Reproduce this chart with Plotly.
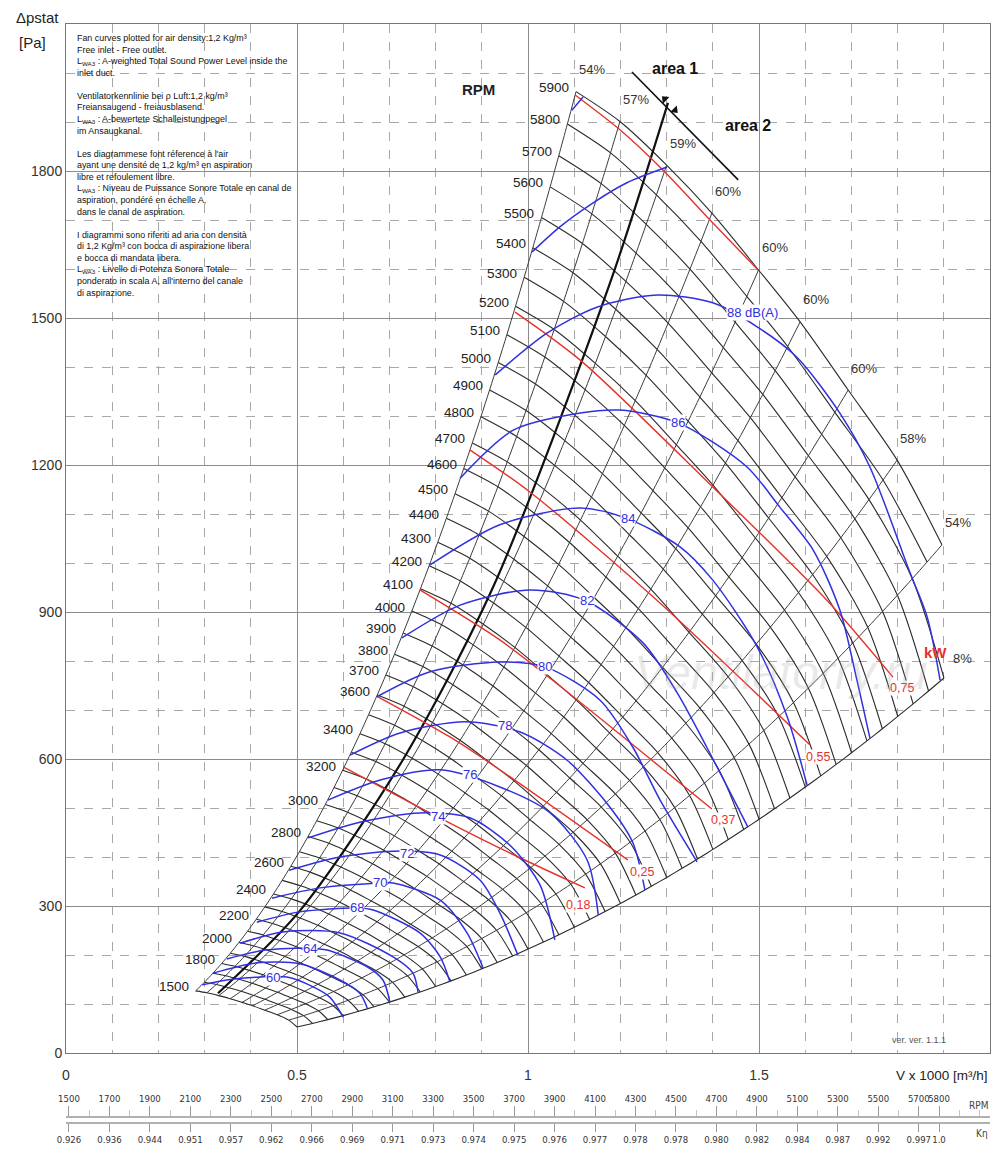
import plotly.graph_objects as go

# ------------------------------------------------------------------ data
# speed curves (every 100 rpm) and the ones carrying a label
RPM = [1500, 1600, 1700, 1800, 1900, 2000, 2100, 2200, 2300, 2400, 2500, 2600, 2700,
       2800, 2900, 3000, 3100, 3200, 3300, 3400, 3500, 3600, 3700, 3800, 3900, 4000,
       4100, 4200, 4300, 4400, 4500, 4600, 4700, 4800, 4900, 5000, 5100, 5200, 5300,
       5400, 5500, 5600, 5700, 5800, 5900]
RPM_LABELLED = [1500, 1800, 2000, 2200, 2400, 2600, 2800, 3000, 3200, 3400, 3600, 3700,
                3800, 3900, 4000, 4100, 4200, 4300, 4400, 4500, 4600, 4700, 4800, 4900,
                5000, 5100, 5200, 5300, 5400, 5500, 5600, 5700, 5800, 5900]

# reference curve at 5900 rpm (V x1000 m3/h, Pa)
BASE_RPM = 5900
BASE_V = [1.104, 1.199, 1.300, 1.398, 1.499, 1.589, 1.693, 1.799, 1.896, 1.967]
BASE_P = [1962, 1901, 1812, 1714, 1598, 1492, 1353, 1210, 1037, 820]
V_LIMIT = 1.92
# efficiency lines end on the first nine points of the reference curve
EFF_LABELS = ["54%", "57%", "59%", "60%", "60%", "60%", "60%", "58%", "54%"]

# sound power lines dB(A)
SOUND_LEVELS = [60, 62, 64, 66, 68, 70, 72, 74, 76, 78, 80, 82, 84, 86, 88, 90, 92]
SOUND_V = [
    [0.294, 0.348, 0.420, 0.478, 0.535, 0.571, 0.600],
    [0.318, 0.413, 0.506, 0.593, 0.636, 0.652],
    [0.348, 0.431, 0.528, 0.565, 0.652, 0.686, 0.701],
    [0.377, 0.470, 0.593, 0.708, 0.751, 0.762],
    [0.413, 0.506, 0.630, 0.665, 0.766, 0.810, 0.831],
    [0.446, 0.550, 0.680, 0.708, 0.810, 0.868, 0.903],
    [0.483, 0.593, 0.723, 0.810, 0.896, 0.939, 0.978],
    [0.524, 0.636, 0.766, 0.874, 0.961, 1.026, 1.058],
    [0.567, 0.680, 0.810, 0.939, 1.048, 1.128, 1.152],
    [0.615, 0.723, 0.864, 0.983, 1.084, 1.177, 1.227, 1.253],
    [0.673, 0.788, 0.939, 1.037, 1.156, 1.227, 1.286, 1.366],
    [0.727, 0.853, 1.004, 1.123, 1.249, 1.323, 1.387, 1.476],
    [0.788, 0.939, 1.113, 1.216, 1.329, 1.400, 1.496, 1.561, 1.604],
    [0.853, 0.968, 1.113, 1.199, 1.325, 1.474, 1.545, 1.617, 1.675, 1.712, 1.740],
    [0.929, 1.041, 1.149, 1.279, 1.400, 1.496, 1.582, 1.675, 1.740, 1.827, 1.864, 1.892],
    [1.009, 1.069, 1.141, 1.214, 1.301],
    [1.095, 1.119],
]
SOUND_P = [
    [139, 149, 155, 155, 135, 114, 73],
    [163, 184, 182, 149, 122, 92],
    [192, 210, 214, 210, 176, 149, 104],
    [224, 247, 245, 196, 163, 124],
    [267, 288, 296, 292, 245, 196, 145],
    [316, 337, 347, 347, 312, 245, 173],
    [373, 400, 412, 404, 353, 286, 200],
    [439, 471, 490, 480, 424, 343, 231],
    [516, 557, 578, 543, 490, 394, 282],
    [608, 653, 676, 655, 598, 502, 429, 333],
    [727, 778, 798, 788, 720, 624, 516, 390],
    [847, 914, 945, 924, 837, 735, 624, 461],
    [996, 1078, 1112, 1090, 1033, 965, 829, 686, 547],
    [1173, 1271, 1306, 1312, 1286, 1196, 1114, 1027, 904, 761, 643],
    [1384, 1469, 1522, 1547, 1531, 1482, 1420, 1306, 1196, 980, 890, 761],
    [1635, 1686, 1735, 1776, 1808],
    [1924, 1951],
]
SOUND_LABEL_TEXT = ["60", "64", "68", "70", "72", "74", "76", "78", "80", "82", "84", "86", "88 dB(A)"]
SOUND_LABEL_V = [0.448, 0.528, 0.630, 0.680, 0.738, 0.805, 0.874, 0.950, 1.037, 1.128, 1.216, 1.325, 1.487]
SOUND_LABEL_P = [155, 214, 296, 347, 408, 482, 569, 669, 788, 924, 1090, 1286, 1512]

# shaft power lines kW
KW_V = [[0.600, 0.788, 0.939, 1.123],
        [0.675, 0.831, 0.939, 1.216],
        [0.766, 0.939, 1.058, 1.398],
        [0.874, 1.004, 1.279, 1.610],
        [0.972, 1.113, 1.400, 1.647, 1.790],
        [1.102, 1.199, 1.292, 1.394, 1.498]]
KW_P = [[584, 490, 418, 337],
        [727, 645, 578, 394],
        [945, 843, 757, 498],
        [1231, 1145, 924, 629],
        [1512, 1414, 1155, 924, 767],
        [1955, 1884, 1802, 1700, 1598]]
KW_LABEL_TEXT = ["0,18", "0,25", "0,37", "0,55", "0,75"]
KW_LABEL_V = [1.108, 1.247, 1.422, 1.628, 1.810]
KW_LABEL_P = [302, 369, 476, 604, 745]

# area 1 / area 2 separation
THICK_V = [0.329, 0.506, 0.729, 0.924, 1.177, 1.303]
THICK_P = [122, 290, 598, 950, 1570, 1939]
DIV_V = [1.225, 1.455]
DIV_P = [2002, 1782]
ARROW_V = [1.296, 1.318]
ARROW_P = [1947, 1924]

# bottom scales
RPM_TICKS = [1500, 1700, 1900, 2100, 2300, 2500, 2700, 2900, 3100, 3300, 3500, 3700,
             3900, 4100, 4300, 4500, 4700, 4900, 5100, 5300, 5500, 5700, 5800]
K_ETA = ["0.926", "0.936", "0.944", "0.951", "0.957", "0.962", "0.966", "0.969", "0.971",
         "0.973", "0.974", "0.975", "0.976", "0.977", "0.978", "0.978", "0.980", "0.982",
         "0.984", "0.987", "0.992", "0.997", "1.0"]

NOTE = ("Fan curves plotted for air density:1,2 Kg/m³<br>Free inlet - Free outlet.<br>"
        "L<sub>WA3</sub> : A-weighted Total Sound Power Level inside the<br>inlet duct.<br><br>"
        "Ventilatorkennlinie bei ρ Luft:1,2 kg/m³<br>Freiansaugend - freiausblasend.<br>"
        "L<sub>WA3</sub> : A-bewertete Schalleistungpegel<br>im Ansaugkanal.<br><br>"
        "Les diagrammese font réference à l'air<br>ayant une densité de 1,2 kg/m³ en aspiration<br>"
        "libre et refoulement libre.<br>"
        "L<sub>WA3</sub> : Niveau de Puissance Sonore Totale en canal de<br>"
        "aspiration, pondéré en échelle A,<br>dans le canal de aspiration.<br><br>"
        "I diagrammi sono riferiti ad aria con densità<br>"
        "di 1,2 Kg/m³ con bocca di aspirazione libera<br>e bocca di mandata libera.<br>"
        "L<sub>WA3</sub> : Livello di Potenza Sonora Totale<br>"
        "ponderato in scala A, all'interno del canale<br>di aspirazione.")

# ------------------------------------------------------------------ figure
FONT = "Liberation Sans, Arial, sans-serif"
NARROW = "Liberation Sans Narrow, DejaVu Sans Condensed, Roboto Condensed, Liberation Sans, sans-serif"
BLACK = "#2a2a2a"
RED = "#e6322b"
BLUE = "#3030e0"

fig = go.Figure()

def line(x, y, color, width, spline=True, xaxis="x"):
    fig.add_trace(go.Scatter(x=x, y=y, mode="lines", xaxis=xaxis,
                             line=dict(color=color, width=width,
                                       shape="spline" if spline else "linear", smoothing=0.8),
                             hoverinfo="skip", showlegend=False))

# speed curves
ends_v, ends_p = [], []
for n in RPM:
    r = n / BASE_RPM
    xs = [v * r for v in BASE_V if v * r <= V_LIMIT]
    ys = [p * r * r for v, p in zip(BASE_V, BASE_P) if v * r <= V_LIMIT]
    line(xs, ys, BLACK, 1.1)
    if len(xs) == len(BASE_V):
        ends_v.append(xs[-1])
        ends_p.append(ys[-1])
line(ends_v, ends_p, BLACK, 1.1)

# efficiency lines (through the points of equal position on every speed curve)
for i in range(len(EFF_LABELS)):
    xs = [BASE_V[i] * n / BASE_RPM for n in RPM]
    ys = [BASE_P[i] * (n / BASE_RPM) ** 2 for n in RPM]
    line(xs, ys, "#3c3c3c", 1.0)

# thick separation line and divider
line(THICK_V, THICK_P, "#111111", 2.2)
line(DIV_V, DIV_P, "#111111", 1.6, spline=False)
fig.add_trace(go.Scatter(x=ARROW_V, y=ARROW_P, mode="markers",
                         marker=dict(symbol="triangle-up", size=8, color="#111111", angle=[-45, 135]),
                         hoverinfo="skip", showlegend=False))

# power lines
for xs, ys in zip(KW_V, KW_P):
    line(xs, ys, RED, 1.4)

# sound lines
for xs, ys in zip(SOUND_V, SOUND_P):
    line(xs, ys, BLUE, 1.5)

# dummy traces carrying the bottom scales
fig.add_trace(go.Scatter(x=RPM_TICKS, y=[0] * len(RPM_TICKS), xaxis="x2", mode="markers",
                         marker=dict(opacity=0), hoverinfo="skip", showlegend=False))
fig.add_trace(go.Scatter(x=RPM_TICKS, y=[0] * len(RPM_TICKS), xaxis="x3", mode="markers",
                         marker=dict(opacity=0), hoverinfo="skip", showlegend=False))

ann = []
# rpm labels
for n in RPM_LABELLED:
    r = n / BASE_RPM
    ann.append(dict(x=BASE_V[0] * r, y=BASE_P[0] * r * r, text=str(n), showarrow=False,
                    xanchor="right", yanchor="middle", xshift=-5, yshift=4,
                    font=dict(family=FONT, size=13.5, color="#222")))
# efficiency labels
for i, t in enumerate(EFF_LABELS):
    ann.append(dict(x=BASE_V[i], y=BASE_P[i], text=t, showarrow=False, xshift=16, yshift=22,
                    font=dict(family=FONT, size=13, color="#333")))
# sound labels
for t, x, y in zip(SOUND_LABEL_TEXT, SOUND_LABEL_V, SOUND_LABEL_P):
    ann.append(dict(x=x, y=y, text=t, showarrow=False, bgcolor="white", borderpad=0,
                    font=dict(family=FONT, size=13, color=BLUE)))
# kW labels
for t, x, y in zip(KW_LABEL_TEXT, KW_LABEL_V, KW_LABEL_P):
    ann.append(dict(x=x, y=y, text=t, showarrow=False, bgcolor="white", borderpad=0,
                    font=dict(family=FONT, size=12.5, color=RED)))

def paper(px, py):
    return (px - 66) / 924.0, (1145 - py) / 1121.0

def ptext(px, py, text, size, color="#222", xanchor="center", bold=False, family=FONT, **kw):
    x, y = paper(px, py)
    if bold:
        text = "<b>" + text + "</b>"
    ann.append(dict(xref="paper", yref="paper", x=x, y=y, text=text, showarrow=False,
                    xanchor=xanchor, yanchor="middle",
                    font=dict(family=family, size=size, color=color), **kw))

ptext(780, 672, "<i>Ventilatorry.ru</i>", 48, "rgba(170,170,170,0.25)")
ptext(951, 659, "8%", 13, "#333", xanchor="left")
ptext(949, 652, "kW", 15, RED, xanchor="right", bold=True)
ptext(478, 90, "RPM", 15, "#222", bold=True)
ptext(675, 68, "area 1", 16, "#111", bold=True)
ptext(748, 125, "area 2", 16, "#111", bold=True)
ptext(14, 17, "Δpstat", 15, "#222", xanchor="left")
ptext(17, 42, "[Pa]", 15, "#222", xanchor="left")
ptext(990, 1075, "V x 1000 [m³/h]", 13.5, "#222", xanchor="right")
ptext(990, 1105, "RPM", 10, "#444", xanchor="right", family=NARROW)
ptext(990, 1133, "Kη", 10, "#444", xanchor="right", family=NARROW)
ptext(948, 1040, "ver. ver. 1.1.1", 9, "#555", xanchor="right")
x0, y0 = paper(75, 31)
ann.append(dict(xref="paper", yref="paper", x=x0, y=y0, text=NOTE, showarrow=False,
                xanchor="left", yanchor="top", align="left",
                font=dict(family=FONT, size=8.9, color="#111")))

GRID = "#8c8c8c"
MINOR = "#a8a8a8"
fig.update_layout(
    width=1000, height=1160,
    # the page body adds 8 px, so the margins are offset to put the frame where the reference has it
    margin=dict(l=58, r=18, t=16, b=23, autoexpand=False),
    paper_bgcolor="white", plot_bgcolor="white",
    showlegend=False,
    annotations=ann,
    xaxis=dict(range=[0, 2.0], domain=[0, 1], anchor="y", automargin=False,
               tickmode="array", tickvals=[0, 0.5, 1, 1.5], ticktext=["0", "0.5", "1", "1.5"],
               showgrid=True, gridcolor=GRID, gridwidth=1,
               minor=dict(dtick=0.1, tick0=0, showgrid=True, gridcolor=MINOR, griddash="dash",
                          gridwidth=1),
               showline=True, linecolor="#777", linewidth=1, mirror=True, tickangle=0,
               ticklabelstandoff=9,
               zeroline=False, ticks="", tickfont=dict(family=FONT, size=14, color="#333")),
    yaxis=dict(range=[0, 2100], domain=[(1145 - 1053) / 1121.0, 1], anchor="x", automargin=False,
               tickmode="array", tickvals=[0, 300, 600, 900, 1200, 1500, 1800],
               showgrid=True, gridcolor=GRID, gridwidth=1,
               minor=dict(dtick=100, tick0=0, showgrid=True, gridcolor=MINOR, griddash="dash",
                          gridwidth=1),
               showline=True, linecolor="#777", linewidth=1, mirror=True,
               zeroline=False, ticks="", tickfont=dict(family=FONT, size=14, color="#333")),
    xaxis2=dict(range=[1485.2, 6052], overlaying="x", anchor="free", automargin=False,
                position=(1145 - 1117) / 1121.0, side="top", tickangle=0,
                tickmode="array", tickvals=RPM_TICKS, ticktext=[str(v) for v in RPM_TICKS],
                ticks="outside", ticklen=10, tickcolor="#9a9a9a",
                minor=dict(dtick=100, tick0=1500, ticks="outside", ticklen=6, tickcolor="#c4c4c4"),
                showline=True, linecolor="#b0b0b0", linewidth=2, showgrid=False, zeroline=False,
                tickfont=dict(family=NARROW, size=9.5, color="#333")),
    xaxis3=dict(range=[1485.2, 6052], overlaying="x", anchor="free", automargin=False,
                position=(1145 - 1123) / 1121.0, side="bottom", tickangle=0,
                tickmode="array", tickvals=RPM_TICKS, ticktext=K_ETA,
                ticks="outside", ticklen=8, tickcolor="#9a9a9a",
                showline=True, linecolor="#b0b0b0", linewidth=2, showgrid=False, zeroline=False,
                tickfont=dict(family=NARROW, size=9.5, color="#333")),
)

fig.write_html("out.html")
